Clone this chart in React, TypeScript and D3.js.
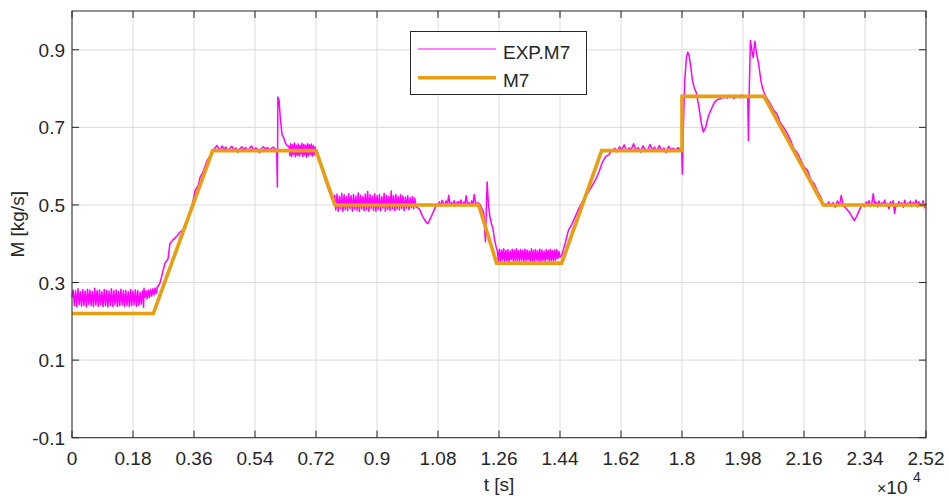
import React from "react";
import * as d3 from "d3";

// ---------- data ----------
const xTicks = [0, 1800, 3600, 5400, 7200, 9000, 10800, 12600, 14400, 16200, 18000, 19800, 21600, 23400, 25200];
const xTickLabels = ["0", "0.18", "0.36", "0.54", "0.72", "0.9", "1.08", "1.26", "1.44", "1.62", "1.8", "1.98", "2.16", "2.34", "2.52"];
const yTicks = [-0.1, 0.1, 0.3, 0.5, 0.7, 0.9];
const yTickLabels = ["-0.1", "0.1", "0.3", "0.5", "0.7", "0.9"];

// M7 model (t [s], M [kg/s])
const m7Time = [0, 2400, 4150, 7200, 7760, 12000, 12530, 14450, 15630, 18000, 18000, 20420, 22170, 25200];
const m7Mass = [0.22, 0.22, 0.64, 0.64, 0.5, 0.5, 0.35, 0.35, 0.64, 0.64, 0.78, 0.78, 0.5, 0.5];

// EXP.M7 measured: noisy bands (values evenly spread over [start, end]) and explicit transition points
const expBandA = [0.262,0.281,0.240,0.279,0.238,0.284,0.243,0.276,0.239,0.282,0.241,0.278,0.237,0.283,0.244,0.280,0.240,0.277,0.238,0.285,0.242,0.279,0.239,0.281,0.243,0.276,0.238,0.282,0.240,0.280,0.237,0.278,0.241,0.284,0.239,0.279,0.243,0.281,0.238,0.277,0.240,0.283,0.242,0.279,0.239,0.280,0.241,0.276,0.238,0.282,0.240,0.278,0.243,0.281,0.239,0.279,0.241,0.275,0.244,0.278];
const expSpikeA = [[2100, 0.27], [2112, 0.236], [2125, 0.285]];
const expBandB = [0.262,0.279,0.258,0.281,0.262,0.283,0.265,0.284,0.268,0.286,0.272,0.29];
const expRise1 = [[2540,0.29],[2600,0.30],[2685,0.33],[2745,0.35],[2830,0.36],[2890,0.40],[2980,0.41],[3100,0.42],[3185,0.43],[3275,0.435],[3335,0.45],[3395,0.46],[3480,0.48],[3570,0.51],[3630,0.537],[3720,0.55],[3780,0.571],[3865,0.585],[3985,0.614],[4100,0.63],[4200,0.645],[4280,0.653]];
const expBandC = [0.648,0.641,0.652,0.644,0.649,0.638,0.646,0.651,0.642,0.647,0.636,0.645,0.650,0.643,0.648,0.640,0.646,0.652,0.641,0.647,0.644,0.635,0.646,0.650,0.643,0.648,0.641,0.646,0.649,0.644];
const expSpike1 = [[6040,0.64],[6060,0.546],[6075,0.778],[6110,0.77],[6150,0.72],[6200,0.68],[6240,0.675],[6300,0.66],[6350,0.652]];
const expBandD = [0.652,0.627,0.658,0.625,0.655,0.630,0.660,0.624,0.654,0.628,0.657,0.626,0.653,0.631,0.659,0.625,0.656,0.629,0.654,0.623,0.658,0.627,0.655,0.630,0.657,0.626,0.653,0.629,0.650,0.635];
const expDrop1 = [[7250,0.635],[7350,0.60],[7450,0.57],[7550,0.545],[7650,0.52],[7700,0.51]];
const expBandE = [0.525,0.487,0.528,0.484,0.522,0.490,0.530,0.483,0.526,0.488,0.521,0.485,0.529,0.491,0.524,0.484,0.527,0.489,0.523,0.486,0.531,0.483,0.525,0.490,0.522,0.485,0.528,0.488,0.535,0.484,0.526,0.491,0.523,0.486,0.529,0.483,0.524,0.489,0.527,0.485,0.521,0.492,0.530,0.484,0.525,0.488,0.522,0.486,0.536,0.490,0.524,0.485,0.527,0.489,0.521,0.487,0.526,0.491,0.523,0.486,0.520,0.492,0.524,0.488,0.519,0.493,0.522,0.490,0.517,0.495];
const expDip1 = [[10250,0.49],[10350,0.47],[10450,0.455],[10500,0.452],[10600,0.47],[10700,0.49],[10750,0.50]];
const expBandF = [0.500,0.508,0.497,0.512,0.503,0.498,0.510,0.502,0.525,0.499,0.506,0.501,0.511,0.497,0.505,0.509,0.500,0.513,0.498,0.507,0.502,0.524,0.500,0.506,0.499,0.510,0.503,0.527,0.501,0.505];
const expDrop2 = [[12000,0.505],[12050,0.50],[12150,0.48],[12200,0.405],[12230,0.50],[12250,0.559],[12290,0.50],[12330,0.47],[12380,0.45],[12420,0.44],[12470,0.41],[12520,0.39]];
const expBandG = [0.382,0.356,0.386,0.354,0.384,0.358,0.387,0.355,0.383,0.357,0.385,0.353,0.381,0.359,0.386,0.356,0.384,0.354,0.387,0.357,0.382,0.355,0.385,0.358,0.383,0.353,0.386,0.356,0.384,0.359,0.381,0.354,0.387,0.357,0.383,0.355,0.385,0.358,0.382,0.354,0.386,0.356,0.384,0.357,0.381,0.355,0.385,0.359,0.383,0.354,0.386,0.357,0.382,0.356,0.384,0.358,0.385,0.362,0.38,0.365];
const expRise2 = [[14450,0.37],[14550,0.40],[14650,0.435],[14750,0.45],[14850,0.47],[14950,0.49],[15050,0.507],[15150,0.52],[15250,0.535],[15350,0.55],[15450,0.565],[15550,0.585],[15650,0.61],[15750,0.625],[15850,0.63],[15900,0.638]];
const expBandH = [0.640,0.646,0.637,0.650,0.642,0.655,0.639,0.647,0.643,0.658,0.641,0.648,0.636,0.652,0.644,0.640,0.656,0.642,0.649,0.638,0.653,0.641,0.647,0.635,0.651,0.643,0.646,0.640,0.648,0.644];
const expJump = [[17990,0.645],[18010,0.58],[18040,0.70],[18080,0.82],[18130,0.88],[18170,0.894],[18210,0.885],[18260,0.855],[18310,0.82],[18370,0.80],[18420,0.79],[18500,0.752],[18570,0.71],[18630,0.688],[18700,0.70],[18780,0.73],[18880,0.75],[18960,0.765],[19050,0.772],[19150,0.774],[19200,0.778]];
const expBandI = [0.776,0.781,0.775,0.783,0.777,0.780,0.774,0.782,0.778,0.779,0.776,0.784,0.777,0.781,0.779];
const expSpike2 = [[19940,0.78],[19960,0.666],[19985,0.80],[20020,0.924],[20060,0.90],[20100,0.88],[20150,0.922],[20200,0.89],[20260,0.864],[20330,0.82],[20380,0.80],[20420,0.79],[20470,0.78],[20600,0.762],[20700,0.745],[20800,0.735],[20900,0.712],[21000,0.70],[21100,0.685],[21200,0.668],[21300,0.645],[21400,0.635],[21500,0.617],[21600,0.598],[21700,0.59],[21800,0.565],[21900,0.555],[22000,0.535],[22100,0.52],[22150,0.505]];
const expBandJ1 = [0.503,0.497,0.508,0.499,0.506,0.494,0.510,0.500];
const expDip2 = [[22700,0.525],[22750,0.50],[22850,0.49],[22950,0.48],[23050,0.465],[23090,0.46],[23150,0.47],[23250,0.49],[23300,0.50]];
const expBandJ2 = [0.502,0.496,0.508,0.499,0.511,0.497,0.505,0.529,0.500,0.507,0.495,0.510,0.498,0.506,0.501,0.513,0.497,0.504,0.490,0.508,0.499,0.511,0.478,0.503,0.497,0.509,0.500,0.506,0.494,0.512,0.498,0.505,0.501,0.510,0.496,0.507,0.499,0.513,0.495,0.508,0.502,0.497,0.511,0.493,0.505];

function band(values: number[], t0: number, t1: number): [number, number][] {
  return values.map((v, i) => [t0 + (i * (t1 - t0)) / (values.length - 1), v] as [number, number]);
}

const expPoints: [number, number][] = [
  ...band(expBandA, 0, 2080),
  ...(expSpikeA as [number, number][]),
  ...band(expBandB, 2150, 2520),
  ...(expRise1 as [number, number][]),
  ...band(expBandC, 4310, 6000),
  ...(expSpike1 as [number, number][]),
  ...band(expBandD, 6400, 7200),
  ...(expDrop1 as [number, number][]),
  ...band(expBandE, 7750, 10150),
  ...(expDip1 as [number, number][]),
  ...band(expBandF, 10800, 11950),
  ...(expDrop2 as [number, number][]),
  ...band(expBandG, 12550, 14400),
  ...(expRise2 as [number, number][]),
  ...band(expBandH, 15950, 17950),
  ...(expJump as [number, number][]),
  ...band(expBandI, 19250, 19900),
  ...(expSpike2 as [number, number][]),
  ...band(expBandJ1, 22200, 22650),
  ...(expDip2 as [number, number][]),
  ...band(expBandJ2, 23350, 25200),
];

const m7Points: [number, number][] = m7Time.map((t, i) => [t, m7Mass[i]]);

// ---------- layout ----------
const W = 948;
const H = 499;
const L = 72, R = 926, T = 11, B = 437.7;
const FONT = "'Liberation Sans', Arial, Helvetica, sans-serif";
const TEXT = "#262626";
const MAGENTA = "#FF00FF";
const ORANGE = "#E89E0E";

export default function App() {
  const x = d3.scaleLinear().domain([0, 25200]).range([L, R]);
  const y = d3.scaleLinear().domain([-0.1, 1.0]).range([B, T]);
  const line = d3.line<[number, number]>().x((d) => x(d[0])).y((d) => y(d[1]));
  const tickLen = 7;

  return (
    <svg width={W} height={H} style={{ position: "fixed", left: 0, top: 0, background: "#fff" }} fontFamily={FONT}>
      <rect x={0} y={0} width={W} height={H} fill="#fff" />
      {/* grid */}
      {xTicks.map((t) => (
        <line key={"gx" + t} x1={x(t)} x2={x(t)} y1={T} y2={B} stroke="#dcdcdc" strokeWidth={1} />
      ))}
      {yTicks.map((v) => (
        <line key={"gy" + v} x1={L} x2={R} y1={y(v)} y2={y(v)} stroke="#dcdcdc" strokeWidth={1} />
      ))}
      {/* data */}
      <path d={line(expPoints) || ""} fill="none" stroke={MAGENTA} strokeWidth={1.5} strokeLinejoin="round" />
      <path d={line(m7Points) || ""} fill="none" stroke={ORANGE} strokeWidth={3.6} strokeLinejoin="miter" />
      {/* box */}
      <rect x={L} y={T} width={R - L} height={B - T} fill="none" stroke={TEXT} strokeWidth={1} />
      {/* ticks */}
      {xTicks.map((t) => (
        <g key={"tx" + t}>
          <line x1={x(t)} x2={x(t)} y1={B} y2={B - tickLen} stroke={TEXT} />
          <line x1={x(t)} x2={x(t)} y1={T} y2={T + tickLen} stroke={TEXT} />
        </g>
      ))}
      {yTicks.map((v) => (
        <g key={"ty" + v}>
          <line x1={L} x2={L + tickLen} y1={y(v)} y2={y(v)} stroke={TEXT} />
          <line x1={R} x2={R - tickLen} y1={y(v)} y2={y(v)} stroke={TEXT} />
        </g>
      ))}
      {/* tick labels */}
      {xTicks.map((t, i) => (
        <text key={"lx" + t} x={x(t)} y={465} textAnchor="middle" fontSize={19} fill={TEXT}>
          {xTickLabels[i]}
        </text>
      ))}
      {yTicks.map((v, i) => (
        <text key={"ly" + v} x={L - 7} y={y(v) + 7} textAnchor="end" fontSize={19} fill={TEXT}>
          {yTickLabels[i]}
        </text>
      ))}
      {/* axis labels */}
      <text x={(L + R) / 2} y={491} textAnchor="middle" fontSize={19} fill={TEXT}>t [s]</text>
      <text transform={`translate(24, ${(T + B) / 2}) rotate(-90)`} textAnchor="middle" fontSize={19} fill={TEXT}>M [kg/s]</text>
      <text x={877} y={494} fontSize={19} fill={TEXT}>
        <tspan fontSize={16}>×</tspan>10
      </text>
      <text x={913} y={482} fontSize={14} fill={TEXT}>4</text>
      {/* legend */}
      <rect x={410.5} y={31.5} width={176} height={63} fill="#fff" stroke={TEXT} strokeWidth={1} />
      <line x1={418} x2={496} y1={49} y2={49} stroke={MAGENTA} strokeWidth={1} />
      <line x1={418} x2={496} y1={77.7} y2={77.7} stroke={ORANGE} strokeWidth={3.6} />
      <text x={503} y={58.5} fontSize={19} fill={TEXT}>EXP.M7</text>
      <text x={503} y={87} fontSize={19} fill={TEXT}>M7</text>
    </svg>
  );
}
